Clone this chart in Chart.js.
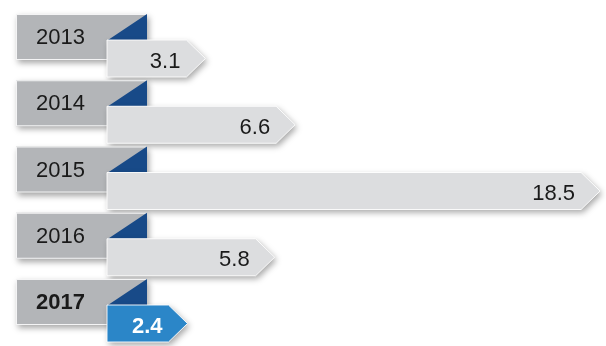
<!DOCTYPE html>
<html>
<head>
<meta charset="utf-8">
<script src="https://cdn.jsdelivr.net/npm/chart.js@4/dist/chart.umd.min.js"></script>
<style>
  html, body { margin: 0; padding: 0; background: #fff; }
  #wrap { width: 606px; height: 346px; }
</style>
</head>
<body>
<div id="wrap"><canvas id="arrowChart" width="606" height="346"></canvas></div>
<script>
var years = ["2013", "2014", "2015", "2016", "2017"];
var values = [3.1, 6.6, 18.5, 5.8, 2.4];
var highlight = "2017";

var FONT = '"Liberation Sans", Arial, Helvetica, sans-serif';

// draws the year tabs and the arrow-shaped bars from the bar elements
var arrowPlugin = {
  id: 'arrows',
  afterDatasetsDraw: function (chart) {
    var ctx = chart.ctx;
    var meta = chart.getDatasetMeta(0);
    meta.data.forEach(function (bar, i) {
      var p = bar.getProps(['x', 'y', 'base', 'height'], true);
      var top = p.y - p.height / 2, bot = p.y + p.height / 2;
      var base = p.base;
      var hot = years[i] === highlight;

      // year tab
      var bx = base - 91, bw = 131, by = top - 26, bh = 46;
      ctx.save();
      ctx.shadowColor = 'rgba(0,0,0,0.35)';
      ctx.shadowBlur = 6;
      ctx.shadowOffsetX = 2;
      ctx.shadowOffsetY = 3;
      ctx.fillStyle = '#b3b5b8';
      ctx.fillRect(bx, by, bw, bh);
      ctx.restore();
      ctx.strokeStyle = 'rgba(255,255,255,0.85)';
      ctx.lineWidth = 1;
      ctx.strokeRect(bx + 0.5, by + 0.5, bw - 1, bh - 1);

      // blue corner
      ctx.fillStyle = '#184a88';
      ctx.beginPath();
      ctx.moveTo(bx + bw, by);
      ctx.lineTo(bx + bw, top);
      ctx.lineTo(base + 1, top);
      ctx.closePath();
      ctx.fill();

      ctx.fillStyle = '#1a1a1a';
      ctx.font = (hot ? 'bold ' : '') + '22px ' + FONT;
      ctx.textAlign = 'left';
      ctx.textBaseline = 'middle';
      ctx.fillText(years[i], bx + 20, by + bh / 2 + 1);

      // arrow bar
      var tip = 19;
      ctx.save();
      ctx.shadowColor = 'rgba(0,0,0,0.35)';
      ctx.shadowBlur = 6;
      ctx.shadowOffsetX = 2;
      ctx.shadowOffsetY = 3;
      ctx.fillStyle = hot ? '#2b86c8' : '#dcdddf';
      ctx.beginPath();
      ctx.moveTo(base, top);
      ctx.lineTo(p.x, top);
      ctx.lineTo(p.x + tip, p.y);
      ctx.lineTo(p.x, bot);
      ctx.lineTo(base, bot);
      ctx.closePath();
      ctx.fill();
      ctx.restore();
      ctx.strokeStyle = 'rgba(255,255,255,0.9)';
      ctx.lineWidth = 1;
      ctx.stroke();

      ctx.fillStyle = hot ? '#ffffff' : '#1a1a1a';
      ctx.font = (hot ? 'bold ' : '') + '22px ' + FONT;
      ctx.textAlign = 'right';
      ctx.fillText(values[i].toFixed(1), p.x - 6, p.y + 3);
    });
  }
};

var ctx = document.getElementById('arrowChart');
var myChart = new Chart(ctx, {
  type: 'bar',
  data: {
    labels: years,
    datasets: [{
      data: values,
      backgroundColor: 'rgba(0,0,0,0)',
      borderWidth: 0,
      barThickness: 37
    }]
  },
  options: {
    indexAxis: 'y',
    responsive: false,
    animation: false,
    layout: { padding: { left: 107, right: 7, top: 58.5, bottom: 22.5 } },
    scales: {
      x: { display: false, min: 0, max: 19.2 },
      y: { display: false, offset: false }
    },
    plugins: {
      legend: { display: false },
      tooltip: { enabled: false }
    }
  },
  plugins: [arrowPlugin]
});
</script>
</body>
</html>
